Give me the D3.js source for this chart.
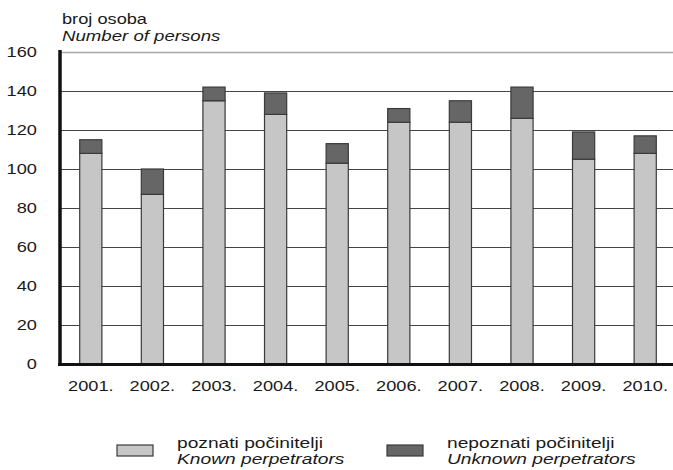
<!DOCTYPE html>
<html>
<head>
<meta charset="utf-8">
<script src="https://cdn.jsdelivr.net/npm/d3@7"></script>
<style>
  html, body { margin: 0; padding: 0; background: #fff; }
  svg { display: block; }
  text { font-family: "Liberation Sans", Arial, sans-serif; fill: #1a1a1a; }
</style>
</head>
<body>
<svg id="chart" width="673" height="470"></svg>
<script>
// ---- data ----
const years = ["2001.", "2002.", "2003.", "2004.", "2005.", "2006.", "2007.", "2008.", "2009.", "2010."];
const known = [108, 87, 135, 128, 103, 124, 124, 126, 105, 108];
const unknown = [7, 13, 7, 11, 10, 7, 11, 16, 14, 9];
const yTicks = [0, 20, 40, 60, 80, 100, 120, 140, 160];
const seriesNames = ["poznati počinitelji", "nepoznati počinitelji"];
const seriesNamesEn = ["Known perpetrators", "Unknown perpetrators"];
const titleHr = "broj osoba";
const titleEn = "Number of persons";

// ---- layout ----
const svg = d3.select("#chart");
const STRETCH = 1.3;
const colors = ["#c6c6c6", "#666666"];

const x = d3.scaleBand().domain(years).range([60, 676]).paddingInner(0.64).paddingOuter(0.32);
const y = d3.scaleLinear().domain([0, 160]).range([364, 52]);

function stretch(sel, f) {
  sel.each(function () {
    const len = this.getComputedTextLength();
    d3.select(this).attr("textLength", len * f).attr("lengthAdjust", "spacingAndGlyphs");
  });
}

// gridlines
svg.append("g").selectAll("line").data(yTicks.filter(d => d > 0)).join("line")
  .attr("x1", 61).attr("x2", 673)
  .attr("y1", d => Math.round(y(d)) + 0.5).attr("y2", d => Math.round(y(d)) + 0.5)
  .attr("stroke", d => d === 160 ? "#a8a8a8" : "#444")
  .attr("stroke-width", d => d === 160 ? 1.6 : 1.1);

// y tick labels
const yl = svg.append("g").selectAll("text").data(yTicks).join("text")
  .attr("x", 37).attr("y", d => y(d)).attr("dy", "0.36em")
  .attr("text-anchor", "end").style("font-size", "14px")
  .text(d => d);
stretch(yl, STRETCH);

// stacked bars
const table = years.map((yr, i) => ({ year: yr, known: known[i], unknown: unknown[i] }));
const stack = d3.stack().keys(["known", "unknown"])(table);
svg.append("g").selectAll("g").data(stack).join("g")
  .attr("fill", (d, i) => colors[i])
  .selectAll("rect").data(d => d).join("rect")
  .attr("x", d => x(d.data.year))
  .attr("width", x.bandwidth())
  .attr("y", d => y(d[1]))
  .attr("height", d => y(d[0]) - y(d[1]))
  .attr("stroke", "#3a3a3a").attr("stroke-width", 1.2);

// axes lines
svg.append("line").attr("x1", 60).attr("x2", 60).attr("y1", 50).attr("y2", 366)
  .attr("stroke", "#111").attr("stroke-width", 3.5);
svg.append("line").attr("x1", 58).attr("x2", 673).attr("y1", 364.5).attr("y2", 364.5)
  .attr("stroke", "#111").attr("stroke-width", 3);

// x labels
const xl = svg.append("g").selectAll("text").data(years).join("text")
  .attr("x", d => x(d) + x.bandwidth() / 2).attr("y", 391)
  .attr("text-anchor", "middle").style("font-size", "14px")
  .text(d => d);
stretch(xl, STRETCH);

// title
const t1 = svg.append("text").attr("x", 62).attr("y", 24).style("font-size", "14px").text(titleHr);
const t2 = svg.append("text").attr("x", 62).attr("y", 41).style("font-size", "14px").style("font-style", "italic").text(titleEn);
stretch(t1, 1.3); stretch(t2, 1.33);

// legend
const legX = [117, 387];
const leg = svg.append("g").selectAll("g").data(seriesNames).join("g")
  .attr("transform", (d, i) => `translate(${legX[i]},0)`);
leg.append("rect").attr("x", 0).attr("y", 445).attr("width", 36).attr("height", 11)
  .attr("fill", (d, i) => colors[i]).attr("stroke", "#3a3a3a").attr("stroke-width", 1.2);
const lt1 = leg.append("text").attr("x", 60).attr("y", 448).style("font-size", "14px").text(d => d);
const lt2 = leg.append("text").attr("x", 60).attr("y", 464).style("font-size", "14px").style("font-style", "italic")
  .text((d, i) => seriesNamesEn[i]);
stretch(lt1, 1.37); stretch(lt2, 1.37);
</script>
</body>
</html>
